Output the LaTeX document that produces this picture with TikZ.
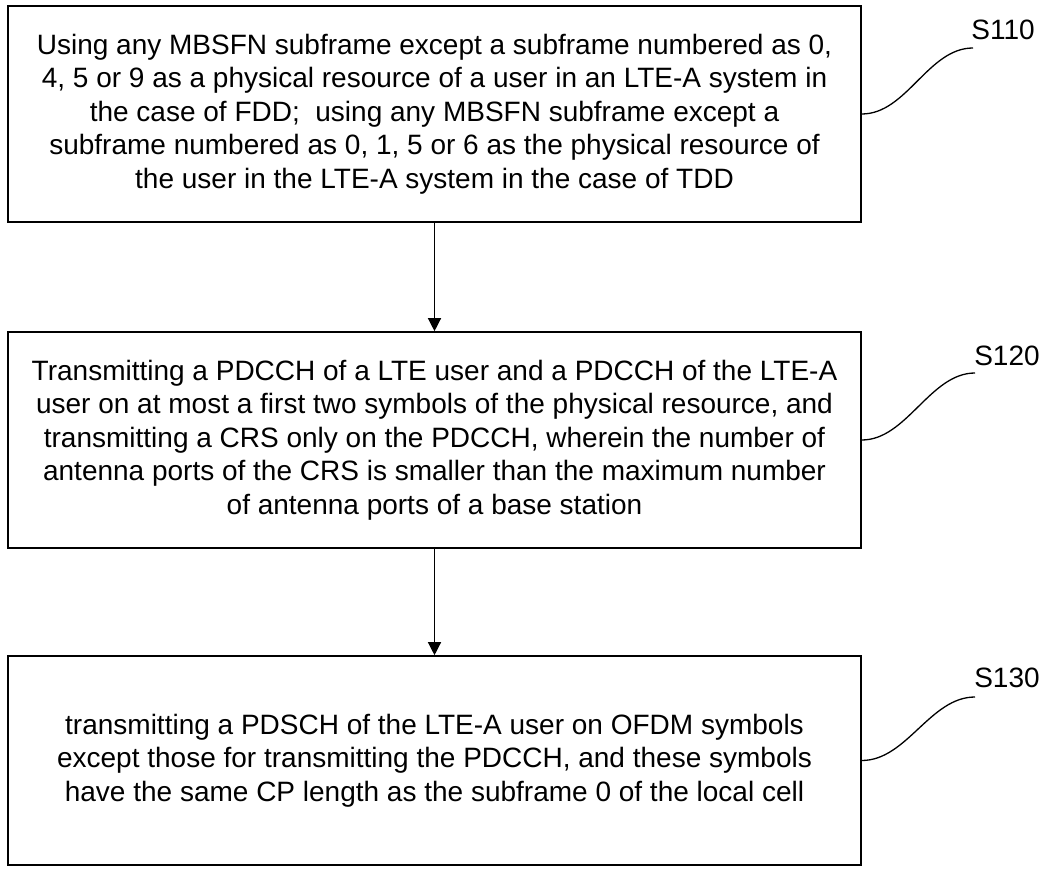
\documentclass[tikz,border=0pt]{standalone}
\usepackage{fontspec}
\setmainfont{Liberation Sans}
\usepackage{tikz}
\usetikzlibrary{positioning,arrows.meta}

\begin{document}
\begin{tikzpicture}[x=1pt,y=1pt,
    stepbox/.style={draw, line width=1.6pt, minimum width=853pt, align=center,
        inner sep=0pt, font=\fontsize{28}{33.5}\selectfont},
    steplabel/.style={font=\fontsize{28}{32}\selectfont},
    tail/.style={line width=1.3pt},
    flow/.style={line width=1.3pt, -{Triangle[length=13pt,width=13pt]}}]
    \useasboundingbox (0,0) rectangle (1046,868);
            \node[stepbox, minimum height=216pt] (box1) at (434.5,754) {Using any MBSFN subframe except a subframe numbered as 0,\\4, 5 or 9 as a physical resource of a user in an LTE-A system in\\the case of FDD;\ \ using any MBSFN subframe except a\\subframe numbered as 0, 1, 5 or 6 as the physical resource of\\the user in the LTE-A system in the case of TDD};
            \node[stepbox, minimum height=216pt] (box2) at (434.5,428) {Transmitting a PDCCH of a LTE user and a PDCCH of the LTE-A\\user on at most a first two symbols of the physical resource, and\\transmitting a CRS only on the PDCCH, wherein the number of\\antenna ports of the CRS is smaller than the maximum number\\of antenna ports of a base station};
            \node[stepbox, minimum height=209pt] (box3) at (434.5,107.5) {transmitting a PDSCH of the LTE-A user on OFDM symbols\\except those for transmitting the PDCCH, and these symbols\\have the same CP length as the subframe 0 of the local cell};
            % step labels
            \node[steplabel] (s110) at (1003,838) {S110};
            \node[steplabel] (s120) at (1007,512) {S120};
            \node[steplabel] (s130) at (1007,190) {S130};
            \coordinate (c1) at (973,820);
            \coordinate (c2) at (975,495);
            \coordinate (c3) at (975,171);
            \draw[tail] (box1.east) .. controls +(45,0) and +(-45,0) .. (c1);
            \draw[tail] (box2.east) .. controls +(45,0) and +(-45,0) .. (c2);
            \draw[tail] (box3.east) .. controls +(45,0) and +(-45,0) .. (c3);
            % arrows
            \draw[flow] (box1) -- (box2);
            \draw[flow] (box2) -- (box3);
        \end{tikzpicture}
\end{document}
